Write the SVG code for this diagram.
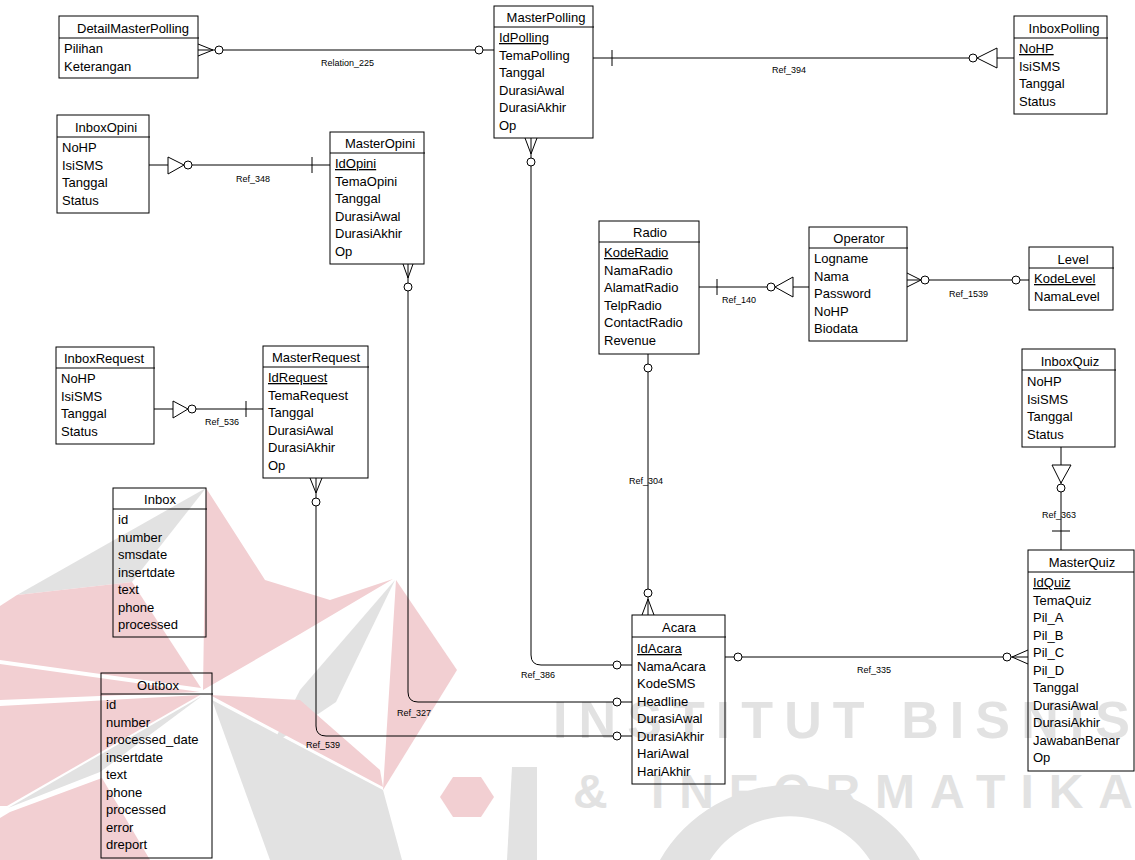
<svg xmlns="http://www.w3.org/2000/svg" width="1135" height="860" viewBox="0 0 1135 860">
  <style>
    .box { fill: none; stroke: #000; stroke-width: 1; }
    .hd { stroke: #000; stroke-width: 1; }
    .t { font-family: "Liberation Sans", Arial, sans-serif; font-size: 13px; fill: #000; }
    .ti { text-anchor: middle; }
    .pk { text-decoration: underline; }
    .lbl { font-family: "Liberation Sans", Arial, sans-serif; font-size: 9px; fill: #000; }
    .ln { fill: none; stroke: #000; stroke-width: 1; }
    .o { fill: #fff; stroke: #000; stroke-width: 1; }
    .wm { font-family: "Liberation Sans", Arial, sans-serif; font-weight: bold; fill: #e2e2e2; }
    .pink { fill: #f2cfd2; }
    .grey { fill: #e2e2e2; }
  </style>

  <rect width="1135" height="860" fill="#fff"/>

  <!-- background emblem and lettering -->
  <g id="watermark">
    <!-- emblem blades -->
    <polygon class="pink" points="206,488 265,580 330,600 393,579 300,634 203,690"/>
    <polygon class="grey" points="17,595 206,488 132,582"/>
    <polygon class="pink" points="17,595 132,582 201,688 0,660 0,606"/>
    <polygon class="pink" points="0,664 200,692 0,700"/>
    <polygon class="pink" points="0,706 200,695 7,806 0,806"/>
    <polygon class="grey" points="202,696 8,808 100,772"/>
    <polygon class="pink" points="10,812 102,778 150,860 0,860 0,818"/>
    <polygon class="grey" points="395,580 336,702 272,745 300,690"/>
    <polygon class="pink" points="396,580 457,670 383,790"/>
    <polygon class="pink" points="210,695 300,700 380,770 383,787"/>
    <polygon class="grey" points="212,700 383,790 402,860 270,860"/>
    <!-- lettering -->
    <polygon class="pink" points="453,777 481,777 494,797 481,817 453,817 440,797"/>
    <polygon class="grey" points="512,767 537,767 537,860 507,860"/>
    <path class="grey" d="M660,860 A150,150 0 0 1 920,860 H870 A95,95 0 0 0 710,860 Z"/>
    <text class="wm" x="553" y="738" font-size="52" textLength="577" lengthAdjust="spacing">INSTITUT BISNIS</text>
    <text class="wm" x="573" y="808" font-size="48" textLength="560" lengthAdjust="spacing">&amp; INFORMATIKA</text>
  </g>

  <!-- relationships -->
  <g id="connectors">
    <!-- Relation_225 -->
    <line class="ln" x1="198" y1="50" x2="494" y2="50"/>
    <polyline class="ln" points="198,44 213,50 198,56"/>
    <circle class="o" cx="219" cy="50" r="4"/>
    <circle class="o" cx="479" cy="50" r="4"/>
    <text class="lbl" x="321" y="66">Relation_225</text>

    <!-- Ref_394 -->
    <line class="ln" x1="593" y1="58" x2="1014" y2="58"/>
    <line class="ln" x1="612" y1="50" x2="612" y2="66"/>
    <circle class="o" cx="973" cy="58" r="4"/>
    <polygon class="o" points="977,58 997,48 997,68"/>
    <text class="lbl" x="772" y="73">Ref_394</text>

    <!-- Ref_348 -->
    <line class="ln" x1="149" y1="165" x2="330" y2="165"/>
    <polygon class="o" points="168,157 168,174 184,165"/>
    <circle class="o" cx="188" cy="165" r="4"/>
    <line class="ln" x1="312" y1="157" x2="312" y2="173"/>
    <text class="lbl" x="236" y="182">Ref_348</text>

    <!-- Ref_536 -->
    <line class="ln" x1="154" y1="409" x2="263" y2="409"/>
    <polygon class="o" points="173,401 173,418 188,409"/>
    <circle class="o" cx="192" cy="409" r="4"/>
    <line class="ln" x1="246" y1="401" x2="246" y2="417"/>
    <text class="lbl" x="205" y="425">Ref_536</text>

    <!-- Ref_140 -->
    <line class="ln" x1="699" y1="287" x2="809" y2="287"/>
    <line class="ln" x1="717" y1="279" x2="717" y2="295"/>
    <circle class="o" cx="771" cy="287" r="4"/>
    <polygon class="o" points="775,287 793,277 793,297"/>
    <text class="lbl" x="722" y="303">Ref_140</text>

    <!-- Ref_1539 -->
    <line class="ln" x1="907" y1="280" x2="1029" y2="280"/>
    <polyline class="ln" points="907,273 921,280 907,287"/>
    <circle class="o" cx="925" cy="280" r="4"/>
    <circle class="o" cx="1016" cy="280" r="4"/>
    <text class="lbl" x="949" y="297">Ref_1539</text>

    <!-- Ref_304 -->
    <line class="ln" x1="648" y1="354" x2="648" y2="615"/>
    <circle class="o" cx="648" cy="368" r="4"/>
    <polyline class="ln" points="642,615 648,599 654,615"/>
    <circle class="o" cx="648" cy="593" r="4"/>
    <text class="lbl" x="629" y="484">Ref_304</text>

    <!-- Ref_363 -->
    <line class="ln" x1="1061" y1="447" x2="1061" y2="550"/>
    <polygon class="o" points="1052,465 1071,465 1061,483"/>
    <circle class="o" cx="1061" cy="488" r="4"/>
    <line class="ln" x1="1052" y1="531" x2="1070" y2="531"/>
    <text class="lbl" x="1042" y="518">Ref_363</text>

    <!-- Ref_335 -->
    <line class="ln" x1="725" y1="657" x2="1028" y2="657"/>
    <circle class="o" cx="738" cy="657" r="4"/>
    <polyline class="ln" points="1028,650 1012,657 1028,664"/>
    <circle class="o" cx="1007" cy="657" r="4"/>
    <text class="lbl" x="857" y="673">Ref_335</text>

    <!-- Ref_386 -->
    <path class="ln" d="M531,138 V655 Q531,665 541,665 H632"/>
    <polyline class="ln" points="525,138 531,154 537,138"/>
    <circle class="o" cx="531" cy="162" r="4"/>
    <circle class="o" cx="617" cy="665" r="4"/>
    <text class="lbl" x="521" y="678">Ref_386</text>

    <!-- Ref_327 -->
    <path class="ln" d="M408,264 V692 Q408,702 418,702 H632"/>
    <polyline class="ln" points="403,264 408,278 413,264"/>
    <circle class="o" cx="408" cy="287" r="4"/>
    <circle class="o" cx="617" cy="702" r="4"/>
    <text class="lbl" x="397" y="716">Ref_327</text>

    <!-- Ref_539 -->
    <path class="ln" d="M316,478 V726 Q316,736 326,736 H632"/>
    <polyline class="ln" points="310,478 316,493 322,478"/>
    <circle class="o" cx="316" cy="502" r="4"/>
    <circle class="o" cx="617" cy="736" r="4"/>
    <text class="lbl" x="306" y="748">Ref_539</text>
  </g>

  <!-- tables -->
  <g id="DetailMasterPolling">
    <rect class="box" x="59" y="16" width="139" height="62"/>
    <line class="hd" x1="59" y1="38" x2="199" y2="38"/>
    <text class="t ti" x="133" y="33">DetailMasterPolling</text>
    <text class="t" x="64" y="53">Pilihan</text>
    <text class="t" x="64" y="71">Keterangan</text>
  </g>

  <g id="MasterPolling">
    <rect class="box" x="494" y="6" width="99" height="132"/>
    <line class="hd" x1="494" y1="27" x2="594" y2="27"/>
    <text class="t ti" x="546" y="22">MasterPolling</text>
    <text class="t pk" x="499" y="42">IdPolling</text>
    <text class="t" x="499" y="59.5">TemaPolling</text>
    <text class="t" x="499" y="77">Tanggal</text>
    <text class="t" x="499" y="94.5">DurasiAwal</text>
    <text class="t" x="499" y="112">DurasiAkhir</text>
    <text class="t" x="499" y="129.5">Op</text>
  </g>

  <g id="InboxPolling">
    <rect class="box" x="1014" y="16" width="93" height="98"/>
    <line class="hd" x1="1014" y1="38" x2="1108" y2="38"/>
    <text class="t ti" x="1064" y="33">InboxPolling</text>
    <text class="t pk" x="1019" y="53">NoHP</text>
    <text class="t" x="1019" y="70.5">IsiSMS</text>
    <text class="t" x="1019" y="88">Tanggal</text>
    <text class="t" x="1019" y="105.5">Status</text>
  </g>

  <g id="InboxOpini">
    <rect class="box" x="57" y="115" width="92" height="98"/>
    <line class="hd" x1="57" y1="137" x2="150" y2="137"/>
    <text class="t ti" x="106" y="132">InboxOpini</text>
    <text class="t" x="62" y="152">NoHP</text>
    <text class="t" x="62" y="169.5">IsiSMS</text>
    <text class="t" x="62" y="187">Tanggal</text>
    <text class="t" x="62" y="204.5">Status</text>
  </g>

  <g id="MasterOpini">
    <rect class="box" x="330" y="132" width="94" height="132"/>
    <line class="hd" x1="330" y1="153" x2="425" y2="153"/>
    <text class="t ti" x="380" y="148">MasterOpini</text>
    <text class="t pk" x="335" y="168">IdOpini</text>
    <text class="t" x="335" y="185.5">TemaOpini</text>
    <text class="t" x="335" y="203">Tanggal</text>
    <text class="t" x="335" y="220.5">DurasiAwal</text>
    <text class="t" x="335" y="238">DurasiAkhir</text>
    <text class="t" x="335" y="255.5">Op</text>
  </g>

  <g id="Radio">
    <rect class="box" x="599" y="221" width="100" height="133"/>
    <line class="hd" x1="599" y1="242" x2="700" y2="242"/>
    <text class="t ti" x="650" y="237">Radio</text>
    <text class="t pk" x="604" y="257">KodeRadio</text>
    <text class="t" x="604" y="274.5">NamaRadio</text>
    <text class="t" x="604" y="292">AlamatRadio</text>
    <text class="t" x="604" y="309.5">TelpRadio</text>
    <text class="t" x="604" y="327">ContactRadio</text>
    <text class="t" x="604" y="344.5">Revenue</text>
  </g>

  <g id="Operator">
    <rect class="box" x="809" y="227" width="98" height="114"/>
    <line class="hd" x1="809" y1="248" x2="908" y2="248"/>
    <text class="t ti" x="859" y="243">Operator</text>
    <text class="t" x="814" y="263">Logname</text>
    <text class="t" x="814" y="280.5">Nama</text>
    <text class="t" x="814" y="298">Password</text>
    <text class="t" x="814" y="315.5">NoHP</text>
    <text class="t" x="814" y="333">Biodata</text>
  </g>

  <g id="Level">
    <rect class="box" x="1029" y="247" width="84" height="63"/>
    <line class="hd" x1="1029" y1="268" x2="1114" y2="268"/>
    <text class="t ti" x="1073" y="264">Level</text>
    <text class="t pk" x="1034" y="283">KodeLevel</text>
    <text class="t" x="1034" y="300.5">NamaLevel</text>
  </g>

  <g id="InboxRequest">
    <rect class="box" x="56" y="347" width="98" height="97"/>
    <line class="hd" x1="56" y1="368" x2="155" y2="368"/>
    <text class="t ti" x="104" y="363">InboxRequest</text>
    <text class="t" x="61" y="383">NoHP</text>
    <text class="t" x="61" y="400.5">IsiSMS</text>
    <text class="t" x="61" y="418">Tanggal</text>
    <text class="t" x="61" y="435.5">Status</text>
  </g>

  <g id="MasterRequest">
    <rect class="box" x="263" y="346" width="105" height="132"/>
    <line class="hd" x1="263" y1="367" x2="369" y2="367"/>
    <text class="t ti" x="316" y="362">MasterRequest</text>
    <text class="t pk" x="268" y="382">IdRequest</text>
    <text class="t" x="268" y="399.5">TemaRequest</text>
    <text class="t" x="268" y="417">Tanggal</text>
    <text class="t" x="268" y="434.5">DurasiAwal</text>
    <text class="t" x="268" y="452">DurasiAkhir</text>
    <text class="t" x="268" y="469.5">Op</text>
  </g>

  <g id="Inbox">
    <rect class="box" x="113" y="488" width="93" height="149"/>
    <line class="hd" x1="113" y1="509" x2="207" y2="509"/>
    <text class="t ti" x="160" y="504">Inbox</text>
    <text class="t" x="118" y="524">id</text>
    <text class="t" x="118" y="541.5">number</text>
    <text class="t" x="118" y="559">smsdate</text>
    <text class="t" x="118" y="576.5">insertdate</text>
    <text class="t" x="118" y="594">text</text>
    <text class="t" x="118" y="611.5">phone</text>
    <text class="t" x="118" y="629">processed</text>
  </g>

  <g id="Outbox">
    <rect class="box" x="101" y="673" width="111" height="185"/>
    <line class="hd" x1="101" y1="694" x2="213" y2="694"/>
    <text class="t ti" x="158" y="690">Outbox</text>
    <text class="t" x="106" y="709">id</text>
    <text class="t" x="106" y="726.5">number</text>
    <text class="t" x="106" y="744">processed_date</text>
    <text class="t" x="106" y="761.5">insertdate</text>
    <text class="t" x="106" y="779">text</text>
    <text class="t" x="106" y="796.5">phone</text>
    <text class="t" x="106" y="814">processed</text>
    <text class="t" x="106" y="831.5">error</text>
    <text class="t" x="106" y="849">dreport</text>
  </g>

  <g id="InboxQuiz">
    <rect class="box" x="1022" y="349" width="93" height="98"/>
    <line class="hd" x1="1022" y1="370" x2="1116" y2="370"/>
    <text class="t ti" x="1070" y="366">InboxQuiz</text>
    <text class="t" x="1027" y="386">NoHP</text>
    <text class="t" x="1027" y="403.5">IsiSMS</text>
    <text class="t" x="1027" y="421">Tanggal</text>
    <text class="t" x="1027" y="438.5">Status</text>
  </g>

  <g id="MasterQuiz">
    <rect class="box" x="1028" y="550" width="106" height="221"/>
    <line class="hd" x1="1028" y1="572" x2="1134" y2="572"/>
    <text class="t ti" x="1082" y="567">MasterQuiz</text>
    <text class="t pk" x="1033" y="587">IdQuiz</text>
    <text class="t" x="1033" y="604.5">TemaQuiz</text>
    <text class="t" x="1033" y="622">Pil_A</text>
    <text class="t" x="1033" y="639.5">Pil_B</text>
    <text class="t" x="1033" y="657">Pil_C</text>
    <text class="t" x="1033" y="674.5">Pil_D</text>
    <text class="t" x="1033" y="692">Tanggal</text>
    <text class="t" x="1033" y="709.5">DurasiAwal</text>
    <text class="t" x="1033" y="727">DurasiAkhir</text>
    <text class="t" x="1033" y="744.5">JawabanBenar</text>
    <text class="t" x="1033" y="762">Op</text>
  </g>

  <g id="Acara">
    <rect class="box" x="632" y="615" width="93" height="169"/>
    <line class="hd" x1="632" y1="637" x2="726" y2="637"/>
    <text class="t ti" x="679" y="632">Acara</text>
    <text class="t pk" x="637" y="653">IdAcara</text>
    <text class="t" x="637" y="670.5">NamaAcara</text>
    <text class="t" x="637" y="688">KodeSMS</text>
    <text class="t" x="637" y="705.5">Headline</text>
    <text class="t" x="637" y="723">DurasiAwal</text>
    <text class="t" x="637" y="740.5">DurasiAkhir</text>
    <text class="t" x="637" y="758">HariAwal</text>
    <text class="t" x="637" y="775.5">HariAkhir</text>
  </g>
</svg>
